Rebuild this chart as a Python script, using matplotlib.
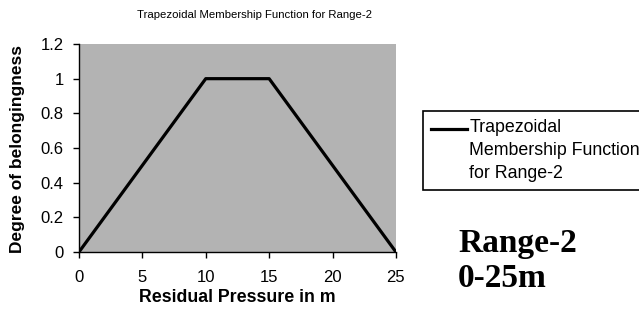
import matplotlib
matplotlib.use("Agg")
import matplotlib.pyplot as plt
from matplotlib.legend_handler import HandlerLine2D

plt.rcParams['font.family'] = ['Liberation Sans', 'DejaVu Sans']

# trapezoid breakpoints for range 2
pressure = [0, 10, 15, 25]
membership = [0, 1, 1, 0]
xticks = [0, 5, 10, 15, 20, 25]
yticks = [0, 0.2, 0.4, 0.6, 0.8, 1, 1.2]
ytick_labels = ["0", "0.2", "0.4", "0.6", "0.8", "1", "1.2"]


class TopLineHandler(HandlerLine2D):
    # put the legend line next to the first row of a multi-line label
    def create_artists(self, legend, orig_handle, xdescent, ydescent,
                       width, height, fontsize, trans):
        artists = super().create_artists(legend, orig_handle, xdescent, ydescent,
                                         width, height, fontsize, trans)
        for a in artists:
            a.set_ydata([y + 1.2 * fontsize for y in a.get_ydata()])
        return artists


fig = plt.figure(figsize=(6.39, 3.2), dpi=100)
ax = fig.add_axes([0.1236, 0.2125, 0.496, 0.65])
ax.set_facecolor("#b3b3b3")

line, = ax.plot(pressure, membership, color="black", linewidth=2.3,
                label="Trapezoidal\nMembership Function\nfor Range-2")

ax.set_xlim(0, 25)
ax.set_ylim(0, 1.2)
ax.set_xticks(xticks)
ax.set_yticks(yticks)
ax.set_yticklabels(ytick_labels)
ax.tick_params(direction="out", length=4, width=1, labelsize=12)
ax.tick_params(axis="x", pad=9)
ax.tick_params(axis="y", pad=7)
for side in ["top", "right"]:
    ax.spines[side].set_visible(False)
for side in ["left", "bottom"]:
    ax.spines[side].set_linewidth(1)

fig.text(0.398, 0.952, "Trapezoidal Membership Function for Range-2",
         ha="center", va="center", fontsize=8.2)
ax.set_xlabel("Residual Pressure in m", fontsize=12.8, fontweight="bold", labelpad=3)
fig.text(0.027, 0.534, "Degree of belongingness", rotation=90,
         ha="center", va="center", fontsize=12.5, fontweight="bold")

leg = ax.legend(loc="upper left", bbox_to_anchor=(0.662, 0.653),
                bbox_transform=fig.transFigure, fontsize=12.8, frameon=True,
                fancybox=False, handlelength=2.0, handletextpad=0.15,
                borderpad=0.45, borderaxespad=0, labelspacing=0.2,
                handler_map={line: TopLineHandler()})
for t in leg.get_texts():
    t.set_linespacing(1.45)
leg.get_frame().set_edgecolor("black")
leg.get_frame().set_linewidth(1.2)
leg.get_frame().set_facecolor("white")
leg.get_frame().set_alpha(1)

fig.text(0.717, 0.103, "Range-2\n0-25m", ha="left", va="baseline",
         fontsize=24, fontweight="bold", family="Liberation Serif",
         linespacing=1.17)

plt.savefig("out.png", dpi=100)
